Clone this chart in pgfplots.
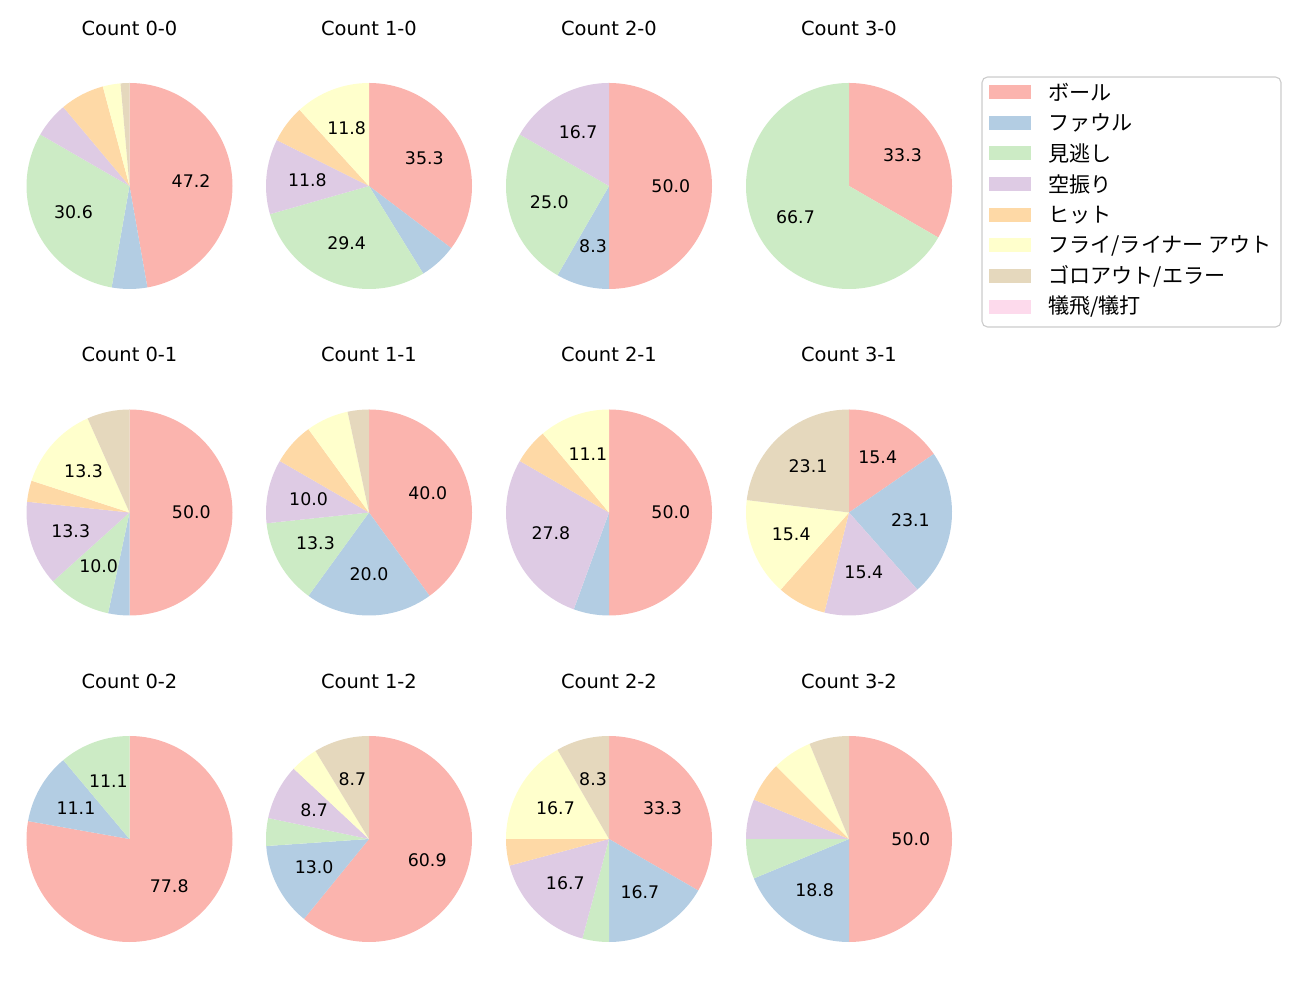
\documentclass[border=0pt]{standalone}
\usepackage{fontspec}
\setmainfont{DejaVu Sans}
\newfontfamily\jp{Noto Sans CJK JP}
\usepackage{pgfplots}
\pgfplotsset{compat=1.18}

% Pastel1
\definecolor{c1}{HTML}{FBB4AE}
\definecolor{c2}{HTML}{B3CDE3}
\definecolor{c3}{HTML}{CCEBC5}
\definecolor{c4}{HTML}{DECBE4}
\definecolor{c5}{HTML}{FED9A6}
\definecolor{c6}{HTML}{FFFFCC}
\definecolor{c7}{HTML}{E5D8BD}
\definecolor{c8}{HTML}{FDDAEC}

\newcommand\R{74.16pt}
\newcommand\titlefont{\fontsize{14}{16}\selectfont}
\newcommand\labelfont{\fontsize{12.5}{15}\selectfont}

% #1 x, #2 y (image px, from top), #3 title, #4 counts (8 categories)
\newcommand{\piechart}[4]{%
\begin{axis}[at={({#1*0.72pt},{(1000-#2)*0.72pt})}, anchor=center, x=74.16pt, y=74.16pt,
  xmin=-1.25, xmax=1.25, ymin=-1.25, ymax=1.25, hide axis, clip=false]
\addplot[draw=none, forget plot] coordinates {(0,0)};
\pgfplotsextra{%
  \gdef\tot{0}%
  \foreach \v in {#4}{\pgfmathparse{\tot+\v}\xdef\tot{\pgfmathresult}}%
  % wedges, clockwise from the top
  \gdef\ang{90}%
  \foreach \v [count=\i] in {#4}{%
    \pgfmathsetmacro\endang{\ang-360*\v/\tot}%
    \ifdim\v pt>0pt
      \fill[fill=c\i] (axis cs:0,0) -- ++(\ang:\R) arc[start angle=\ang, end angle=\endang, radius=\R] -- cycle;
    \fi
    \xdef\ang{\endang}%
  }%
  % percentage labels
  \gdef\ang{90}%
  \foreach \v in {#4}{%
    \pgfmathsetmacro\pct{100*\v/\tot}%
    \pgfmathsetmacro\midang{\ang-180*\v/\tot}%
    \pgfmathsetmacro\endang{\ang-360*\v/\tot}%
    \ifdim\pct pt>8pt
      \path (axis cs:0,0) ++(\midang:0.6*\R) node[font=\labelfont]
        {\pgfmathprintnumber[fixed,fixed zerofill,precision=1,assume math mode=true]{\pct}};
    \fi
    \xdef\ang{\endang}%
  }%
}
\end{axis}
\node[font=\titlefont] at ({#1*0.72pt},{(1000-#2+158)*0.72pt}) {#3};
}

\begin{document}
\begin{tikzpicture}
\useasboundingbox (0,0) rectangle (936pt,720pt);

% order: ball, foul, called strike, swinging strike, hit, fly/liner out, grounder/error, sacrifice
\piechart{129.5}{186}{Count 0-0}{34,4,22,4,5,2,1,0}
\piechart{369}{186}{Count 1-0}{6,1,5,2,1,2,0,0}
\piechart{609}{186}{Count 2-0}{6,1,3,2,0,0,0,0}
\piechart{849}{186}{Count 3-0}{1,0,2,0,0,0,0,0}

\piechart{129.5}{512.5}{Count 0-1}{15,1,3,4,1,4,2,0}
\piechart{369}{512.5}{Count 1-1}{12,6,4,3,2,2,1,0}
\piechart{609}{512.5}{Count 2-1}{9,1,0,5,1,2,0,0}
\piechart{849}{512.5}{Count 3-1}{2,3,0,2,1,2,3,0}

\piechart{129.5}{839}{Count 0-2}{7,1,1,0,0,0,0,0}
\piechart{369}{839}{Count 1-2}{14,3,1,2,0,1,2,0}
\piechart{609}{839}{Count 2-2}{8,4,1,4,1,4,2,0}
\piechart{849}{839}{Count 3-2}{8,3,1,1,1,1,1,0}

% legend
\begin{scope}[x=0.72pt,y=0.72pt]
\draw[draw=black!20, line width=0.8pt, rounded corners=4pt, fill=white] (982,923) rectangle (1281,673);
\foreach \name [count=\k] in {ボール, ファウル, 見逃し, 空振り, ヒット, フライ/ライナー アウト, ゴロアウト/エラー, 犠飛/犠打}{%
  \pgfmathsetmacro\yy{1000-92-(\k-1)*30.7}
  \fill[fill=c\k] (989,\yy-7) rectangle (1031,\yy+7);
  \node[anchor=west, inner sep=0pt, font=\jp\fontsize{15.2}{17}\selectfont] at (1048,\yy) {\name};
}
\end{scope}
\end{tikzpicture}
\end{document}
